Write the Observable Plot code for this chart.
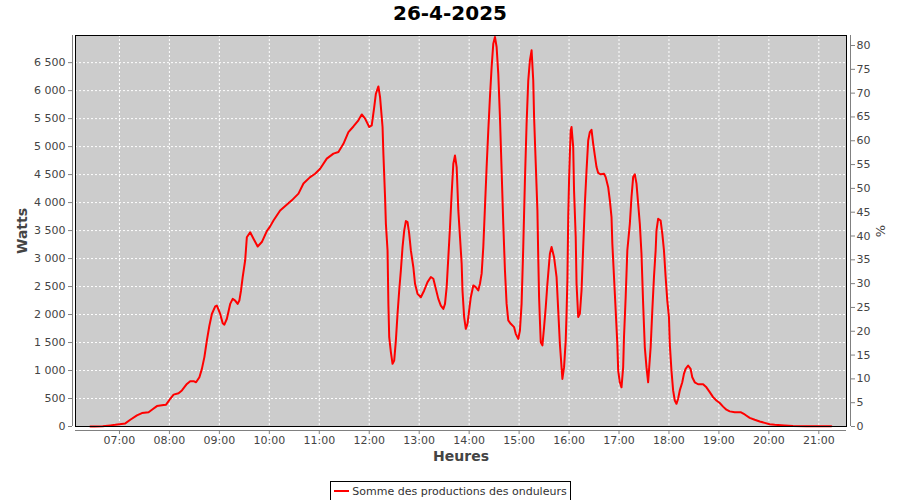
<!DOCTYPE html>
<html>
<head>
<meta charset="utf-8">
<script src="https://cdn.jsdelivr.net/npm/d3@7"></script>
<script src="https://cdn.jsdelivr.net/npm/@observablehq/plot@0.6"></script>
<style>
  html, body { margin: 0; padding: 0; background: #ffffff; }
  body { width: 900px; height: 500px; overflow: hidden; font-family: "DejaVu Sans", sans-serif; }
  #title { height: 28px; line-height: 27px; text-align: center; font-size: 20px; font-weight: bold; color: #000; }
  #chart svg { display: block; }
  #legend { text-align: center; margin-top: 5px; padding-left: 1px; }
  #legend .box { display: inline-flex; align-items: center; height: 19px; border: 1px solid #000; padding: 0 3px 0 3px; font-size: 11px; color: #333; }
  #legend .swatch { width: 15px; height: 2px; background: #ff0000; margin-right: 3px; }
</style>
</head>
<body>
<div id="title">26-4-2025</div>
<div id="chart"></div>
<div id="legend"><span class="box"><span class="swatch"></span><span>Somme des productions des onduleurs</span></span></div>
<script>
// ---- Data ----
const times = [
  "06:25","06:30","06:40","06:49","06:55","07:00","07:07","07:13","07:21","07:27",
  "07:35","07:39","07:45","07:53","07:56","08:01","08:05","08:11","08:15","08:21",
  "08:25","08:29","08:32","08:36","08:39","08:42","08:45","08:48","08:51","08:55",
  "08:57","09:01","09:04","09:06","09:09","09:13","09:16","09:19","09:22","09:24",
  "09:26","09:28","09:31","09:33","09:37","09:41","09:46","09:51","09:57","10:01",
  "10:05","10:13","10:27","10:35","10:41","10:49","10:55","11:01","11:09","11:17",
  "11:23","11:29","11:35","11:41","11:47","11:51","11:55","12:00","12:03","12:06",
  "12:08","12:11","12:13","12:16","12:17","12:19","12:20","12:22","12:23","12:24",
  "12:26","12:28","12:30","12:32","12:34","12:36","12:38","12:40","12:42","12:44",
  "12:46","12:48","12:50","12:53","12:55","12:58","13:02","13:06","13:10","13:14",
  "13:17","13:20","13:23","13:26","13:29","13:31","13:33","13:35","13:37","13:39",
  "13:41","13:43","13:45","13:47","13:49","13:51","13:52","13:54","13:56","13:58",
  "14:00","14:02","14:05","14:08","14:11","14:13","14:15","14:17","14:19","14:21",
  "14:23","14:25","14:27","14:29","14:31","14:33","14:35","14:37","14:39","14:41",
  "14:43","14:45","14:47","14:50","14:54","14:56","14:59","15:01","15:03","15:05",
  "15:07","15:09","15:11","15:13","15:15","15:17","15:18","15:20","15:22","15:23",
  "15:24","15:25","15:26","15:28","15:30","15:32","15:34","15:36","15:37","15:39",
  "15:42","15:45","15:47","15:49","15:51","15:52","15:54","15:56","15:57","15:58",
  "15:59","16:00","16:01","16:02","16:03","16:05","16:06","16:08","16:09","16:11",
  "16:13","16:15","16:17","16:19","16:21","16:23","16:25","16:27","16:29","16:31",
  "16:33","16:35","16:38","16:42","16:44","16:47","16:49","16:51","16:52","16:54",
  "16:56","16:58","16:59","17:01","17:03","17:05","17:06","17:08","17:10","17:13",
  "17:15","17:17","17:19","17:21","17:23","17:25","17:27","17:29","17:31","17:33",
  "17:35","17:36","17:38","17:40","17:42","17:44","17:45","17:47","17:50","17:52",
  "17:54","17:56","17:58","18:00","18:01","18:03","18:05","18:07","18:09","18:11",
  "18:13","18:16","18:18","18:20","18:23","18:26","18:28","18:31","18:35","18:41",
  "18:45","18:49","18:53","18:57","19:01","19:05","19:09","19:13","19:19","19:26",
  "19:31","19:37","19:43","19:49","19:55","20:01","20:07","20:19","20:29","20:45",
  "21:00","21:15"
];
const watts = [
  0,0,5,20,30,40,55,120,200,240,
  255,300,365,385,390,495,570,595,645,760,
  810,810,790,880,1030,1240,1540,1800,2010,2145,
  2160,2010,1845,1820,1925,2190,2280,2250,2190,2250,
  2430,2670,2970,3380,3470,3355,3215,3295,3490,3575,
  3680,3860,4040,4160,4340,4455,4515,4605,4785,4875,
  4905,5050,5260,5360,5470,5575,5500,5350,5380,5705,
  5945,6075,5885,5350,4875,4100,3620,3145,2190,1595,
  1330,1120,1180,1535,2015,2430,2790,3205,3500,3670,
  3650,3445,3145,2845,2550,2370,2310,2430,2580,2670,
  2640,2460,2280,2160,2100,2190,2490,3025,3560,4160,
  4695,4840,4635,3860,3385,2910,2430,1955,1745,1835,
  2075,2310,2520,2490,2430,2550,2730,3205,3920,4635,
  5290,5885,6420,6840,6960,6780,6300,5530,4575,3620,
  2790,2190,1895,1835,1775,1655,1565,1715,2190,3205,
  4395,5410,6180,6540,6720,6180,5530,4695,3860,3025,
  2310,1895,1505,1450,1775,2130,2550,2910,3085,3205,
  3025,2670,2075,1475,1060,850,1060,1535,2015,2610,
  3740,4395,4875,5290,5350,4990,4215,3385,2550,1955,
  2015,2430,3205,3980,4575,5110,5260,5300,5050,4840,
  4635,4530,4505,4515,4455,4275,4040,3740,3265,2670,
  2075,1475,1000,790,700,1060,1595,2310,3145,3620,
  4100,4455,4505,4340,3980,3620,3085,2190,1415,1060,
  790,1000,1415,2075,2670,3145,3500,3710,3680,3445,
  3145,2670,2250,1955,1475,1000,645,465,405,495,
  645,790,940,1030,1090,1030,880,790,755,755,
  700,615,525,465,420,355,300,270,255,255,
  215,155,120,90,65,40,30,18,10,5,
  5,5
];
const hourTicks = [7,8,9,10,11,12,13,14,15,16,17,18,19,20,21];
const wattTicks = [0,500,1000,1500,2000,2500,3000,3500,4000,4500,5000,5500,6000,6500];
const pctTicks = [0,5,10,15,20,25,30,35,40,45,50,55,60,65,70,75,80];
const xDomain = [6.12, 21.554];
const wattMax = 6985;
const pctMax = 82.1;

// ---- Build ----
const toHours = s => { const [h, m] = s.split(":").map(Number); return h + m / 60; };
const data = times.map((t, i) => ({ h: toHours(t), w: watts[i] }));
const wPerPct = wattMax / pctMax;
const pctPos = pctTicks.map(p => p * wPerPct);
const fmtW = d3.formatLocale({ thousands: "\u00a0", grouping: [3], decimal: "," }).format(",d");
const fmtH = d => String(d).padStart(2, "0") + ":00";

const grid = { stroke: "#ffffff", strokeOpacity: 1, strokeWidth: 1, strokeDasharray: "2,2" };
const axisCommon = { tickSize: 4, stroke: "#808080", fill: "#444444", fontSize: 11 };

const chart = Plot.plot({
  width: 900,
  height: 444,
  marginLeft: 75,
  marginRight: 54,
  marginTop: 7,
  marginBottom: 46,
  style: { fontFamily: "DejaVu Sans, sans-serif", fontSize: "11px", background: "transparent" },
  x: { domain: xDomain },
  y: { domain: [0, wattMax] },
  marks: [
    Plot.frame({ fill: "#cccccc", stroke: null }),
    Plot.gridX(hourTicks, grid),
    Plot.gridY(wattTicks, grid),
    Plot.line(data, { x: "h", y: "w", stroke: "#ff0000", strokeWidth: 2, curve: "linear" }),
    Plot.frame({ stroke: "#000000", strokeWidth: 1 }),
    // axis lines (offset from the data area)
    Plot.ruleX([xDomain[0]], { dx: -3, stroke: "#808080" }),
    Plot.ruleX([xDomain[1]], { dx: 4, stroke: "#808080" }),
    Plot.ruleY([0], { dy: 4, stroke: "#808080", x1: xDomain[0], x2: xDomain[1] }),
    Plot.axisX(hourTicks, { ...axisCommon, anchor: "bottom", dy: 4, tickPadding: 2, tickFormat: fmtH, label: null }),
    Plot.axisY(wattTicks, { ...axisCommon, anchor: "left", dx: -3, tickPadding: 3, tickFormat: fmtW, label: null }),
    Plot.axisY(pctPos, { ...axisCommon, anchor: "right", dx: 4, tickPadding: 2, tickFormat: d => String(Math.round(d / wPerPct)), label: null }),
    Plot.text(["Watts"], { frameAnchor: "left", textAnchor: "middle", dx: -53, rotate: -90, fontSize: 14, fontWeight: "bold", fill: "#444444" }),
    Plot.text(["%"], { frameAnchor: "right", textAnchor: "middle", dx: 34, rotate: -90, fontSize: 13, fill: "#444444" }),
    Plot.text(["Heures"], { frameAnchor: "bottom", textAnchor: "middle", dy: 34, fontSize: 14, fontWeight: "bold", fill: "#444444" })
  ]
});
document.getElementById("chart").appendChild(chart);
</script>
</body>
</html>
